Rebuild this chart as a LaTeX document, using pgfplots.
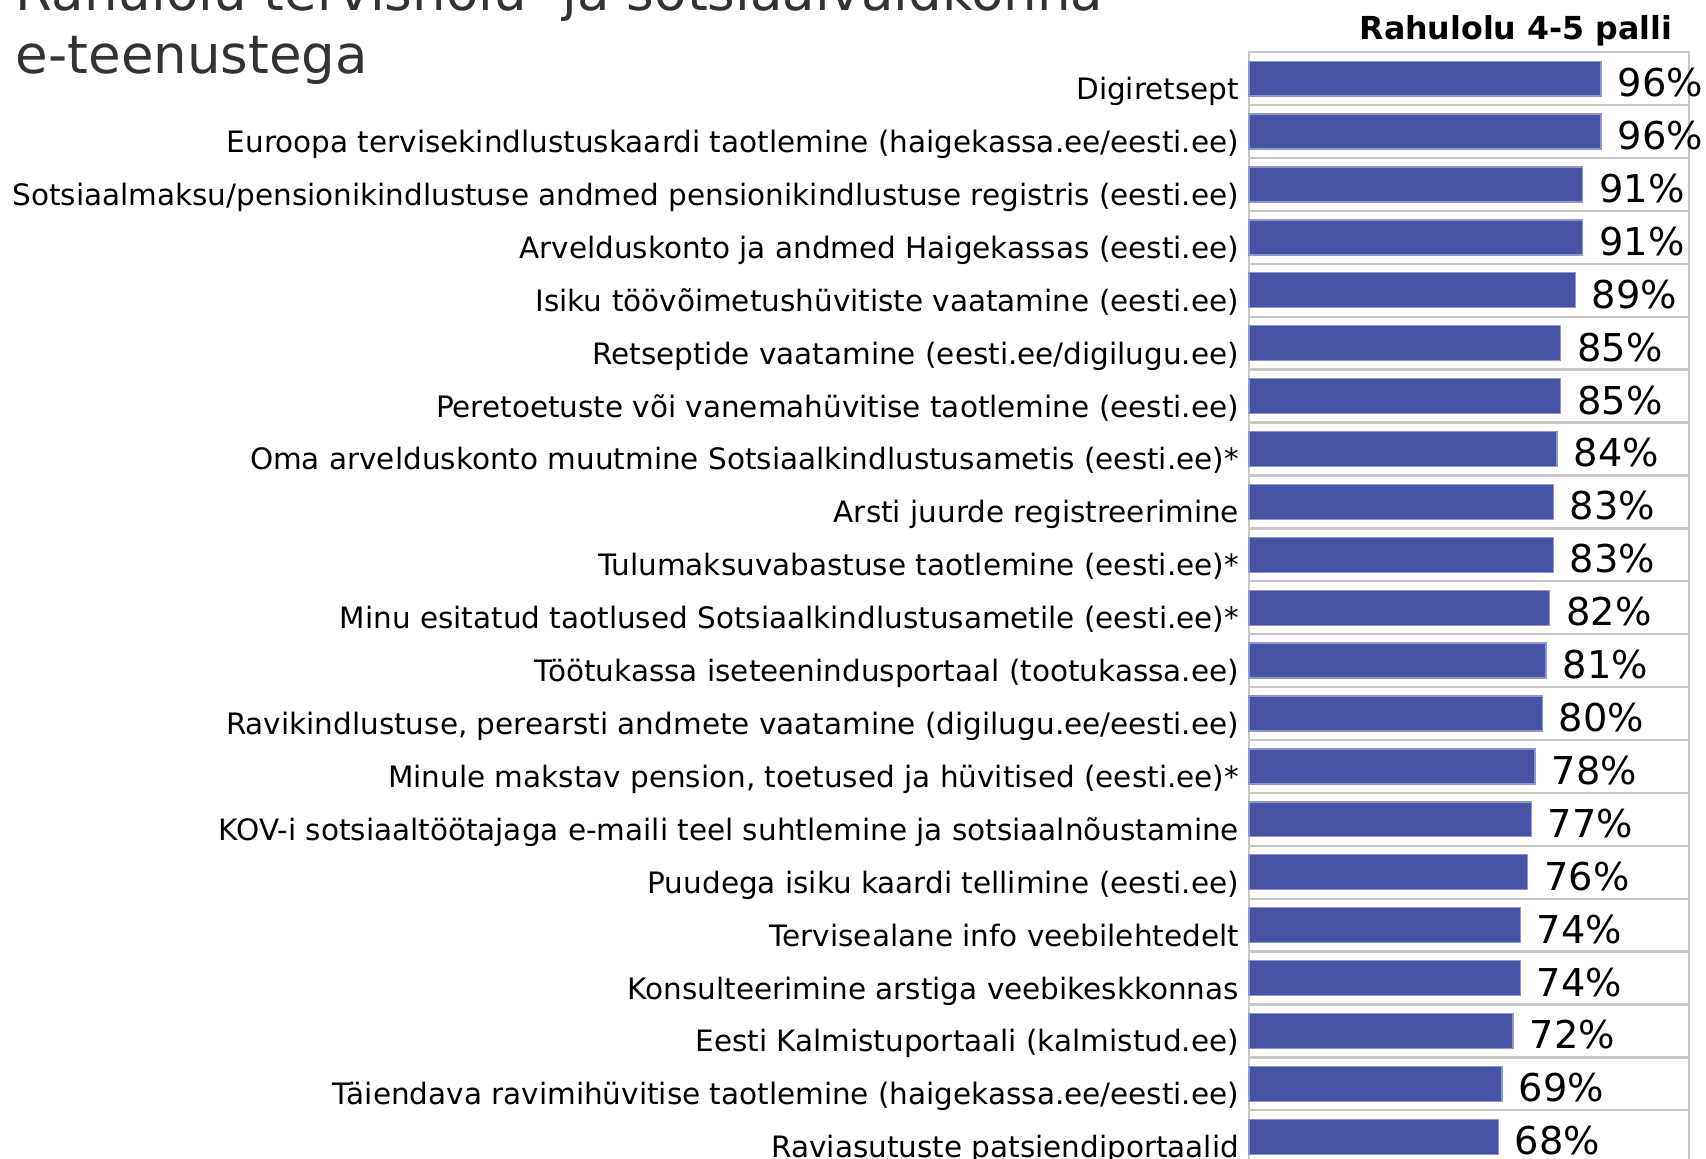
\documentclass[border=0pt]{standalone}
\usepackage{pgfplots}
\usepackage{pgfplotstable}
\pgfplotsset{compat=1.18}
\usepackage{fontspec}
\setmainfont{DejaVu Sans}
\definecolor{barblue}{RGB}{71,84,165}
\definecolor{framegray}{RGB}{200,200,200}
\definecolor{titlegray}{RGB}{51,51,51}

% rank (top = 0) and share of 4-5 points
\pgfplotstableread{
pos share
0  96
1  96
2  91
3  91
4  89
5  85
6  85
7  84
8  83
9  83
10 82
11 81
12 80
13 78
14 77
15 76
16 74
17 74
18 72
19 69
20 68
}\satisfaction

\begin{document}
\begin{tikzpicture}
\path[use as bounding box] (0,0) rectangle (511.8pt,-347.7pt);
% title, first line partly cut off at the top
\node[anchor=base west, inner sep=0pt, text=titlegray,
      font=\fontsize{15.9}{19}\selectfont] at (4.6pt,-3.3pt)
      {Rahulolu tervishoiu- ja sotsiaalvaldkonna};
\node[anchor=base west, inner sep=0pt, text=titlegray,
      font=\fontsize{15.9}{19}\selectfont] at (4.6pt,-22.2pt)
      {e-teenustega};
\node[anchor=base east, inner sep=0pt, font=\bfseries\fontsize{9.5}{11}\selectfont]
      at (501.9pt,-12pt) {Rahulolu 4-5 palli};

\begin{axis}[
    at={(374.7pt,-15.66pt)}, anchor=north west,
    scale only axis, width=132pt, height=333.3pt,
    xbar, bar width=0.66,
    xmin=0, xmax=120,
    ymin=-0.5, ymax=20.5,
    y dir=reverse,
    clip=false,
    xtick=\empty,
    ytick={0,...,20},
    yticklabels={
      {Digiretsept},
      {Euroopa tervisekindlustuskaardi taotlemine (haigekassa.ee/eesti.ee)},
      {Sotsiaalmaksu/pensionikindlustuse andmed pensionikindlustuse registris (eesti.ee)},
      {Arvelduskonto ja andmed Haigekassas (eesti.ee)},
      {Isiku töövõimetushüvitiste vaatamine (eesti.ee)},
      {Retseptide vaatamine (eesti.ee/digilugu.ee)},
      {Peretoetuste või vanemahüvitise taotlemine (eesti.ee)},
      {Oma arvelduskonto muutmine Sotsiaalkindlustusametis (eesti.ee)*},
      {Arsti juurde registreerimine},
      {Tulumaksuvabastuse taotlemine (eesti.ee)*},
      {Minu esitatud taotlused Sotsiaalkindlustusametile (eesti.ee)*},
      {Töötukassa iseteenindusportaal (tootukassa.ee)},
      {Ravikindlustuse, perearsti andmete vaatamine (digilugu.ee/eesti.ee)},
      {Minule makstav pension, toetused ja hüvitised (eesti.ee)*},
      {KOV-i sotsiaaltöötajaga e-maili teel suhtlemine ja sotsiaalnõustamine},
      {Puudega isiku kaardi tellimine (eesti.ee)},
      {Tervisealane info veebilehtedelt},
      {Konsulteerimine arstiga veebikeskkonnas},
      {Eesti Kalmistuportaali (kalmistud.ee)},
      {Täiendava ravimihüvitise taotlemine (haigekassa.ee/eesti.ee)},
      {Raviasutuste patsiendiportaalid}},
    minor ytick={0.5,1.5,...,19.5},
    yminorgrids,
    minor grid style={framegray, line width=0.7pt},
    axis line style={framegray, line width=0.7pt},
    major tick length=0pt, minor tick length=0pt,
    ytick style={draw=none},
    yticklabel style={anchor=base east, inner sep=0pt, xshift=-2.8pt, yshift=-6.3pt,
                      font=\fontsize{8.84}{10}\selectfont},
    /pgf/number format/assume math mode=true,
    nodes near coords={\pgfmathprintnumber{\pgfplotspointmeta}\%},
    point meta=x,
    nodes near coords style={anchor=base west, inner sep=0pt, xshift=4.8pt, yshift=-5.4pt,
                             font=\fontsize{11.5}{13}\selectfont, text=black},
]
\addplot[fill=barblue, draw=barblue!60!white, line width=0.4pt]
    table[x=share, y=pos] {\satisfaction};
\end{axis}
\end{tikzpicture}
\end{document}
